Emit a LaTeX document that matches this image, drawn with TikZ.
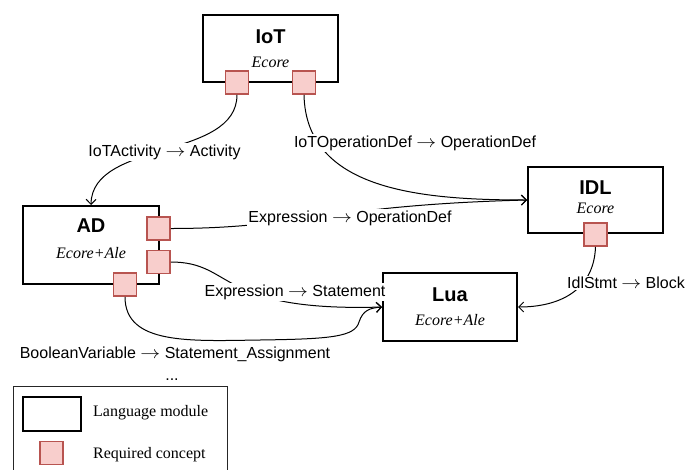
\documentclass[tikz,border=0pt]{standalone}
\usepackage{graphicx}
\usepackage{fontspec}
\setmainfont{Liberation Serif}
\setsansfont{Liberation Sans}
\usetikzlibrary{arrows.meta}
\definecolor{portfill}{HTML}{F8CECC}
\definecolor{portdraw}{HTML}{B85450}
\newcommand{\mapsarr}{\scalebox{1.15}[1]{$\rightarrow$}}
\begin{document}
\begin{tikzpicture}[x=1pt,y=-1pt,
  modbox/.style={draw=black, line width=2pt, fill=white, inner sep=0pt},
  port/.style={draw=portdraw, fill=portfill, line width=1.6pt, minimum size=23pt, inner sep=0pt},
  titletext/.style={font=\sffamily\bfseries\fontsize{20}{22}\selectfont, inner sep=0pt},
  subtext/.style={font=\itshape\fontsize{16}{18}\selectfont, inner sep=0pt},
  lab/.style={font=\sffamily\fontsize{16}{18}\selectfont, fill=white, inner sep=1.5pt},
  plainlab/.style={font=\sffamily\fontsize{16}{18}\selectfont, inner sep=1pt},
  legtext/.style={font=\fontsize{16}{18}\selectfont, inner sep=0pt},
  conn/.style={draw=black, line width=1pt, -{Straight Barb[length=5pt,width=10pt]}},
  legframe/.style={draw=black!85, line width=0.9pt}
]
\useasboundingbox (0,0) rectangle (688,469);

% modules
\node[modbox, minimum width=135pt, minimum height=67pt] (IoT) at (270.5,48.5) {};
\node[titletext] (IoTt) at (270.5,37) {IoT};
\node[subtext] (IoTs) at (270.5,62) {Ecore};

\node[modbox, minimum width=136pt, minimum height=78pt] (AD) at (91,245) {};
\node[titletext] (ADt) at (91,226) {AD};
\node[subtext] (ADs) at (91,253) {Ecore+Ale};

\node[modbox, minimum width=135pt, minimum height=66pt] (IDL) at (595.5,200) {};
\node[titletext] (IDLt) at (595.5,188) {IDL};
\node[subtext] (IDLs) at (595.5,208) {Ecore};

\node[modbox, minimum width=134pt, minimum height=68pt] (Lua) at (450,307) {};
\node[titletext] (Luat) at (450,295) {Lua};
\node[subtext] (Luas) at (450,320) {Ecore+Ale};

% ports
\node[port] (pIoT1) at (237,82.5) {};
\node[port] (pIoT2) at (304,82.5) {};
\node[port] (pAD1) at (158.5,228.5) {};
\node[port] (pAD2) at (158.5,262) {};
\node[port] (pAD3) at (125,284.5) {};
\node[port] (pIDL) at (595.5,234.5) {};

% connectors
\coordinate (c5a) at (260,340);
\coordinate (c5b) at (359,322);
\draw[conn] (pIoT1.south) .. controls (237,160) and (92,140) .. (AD.north);
\draw[conn] (pIoT2.south) .. controls (306,190) and (420,200) .. (IDL.west);
\draw[conn] (pAD1.east) .. controls (300,228.5) and (330,205) .. (IDL.west);
\draw[conn] (pAD2.east) .. controls (235,262) and (215,312) .. (Lua.west);
\draw[conn] (pAD3.south) .. controls (125,345) and (190,341) .. (c5a) .. controls (330,339) and (355,337) .. (c5b) .. controls (363,310) and (370,308) .. (Lua.west);
\draw[conn] (pIDL.south) .. controls (594,290) and (560,307) .. (Lua.east);

% labels
\node[lab] (L1) at (164.5,152) {IoTActivity \mapsarr{} Activity};
\node[lab] (L2) at (415,143) {IoTOperationDef \mapsarr{} OperationDef};
\node[lab] (L3) at (350,218) {Expression \mapsarr{} OperationDef};
\node[lab] (L4) at (295,292) {Expression \mapsarr{} Statement};
\node[lab] (L5) at (626,283) {IdlStmt \mapsarr{} Block};
\node[plainlab] (L6) at (175,354) {BooleanVariable \mapsarr{} Statement\_Assignment};
\node[plainlab] (L7) at (172,380) {...};

% legend
\node[legframe, minimum width=214pt, minimum height=92pt, anchor=north west, inner sep=0pt] (legend) at (13,386) {};
\node[modbox, minimum width=58pt, minimum height=34pt] (lgm) at (52,414) {};
\node[port] (lgp) at (51.5,453) {};
\node[legtext, anchor=west] (lgmt) at (93,413) {Language module};
\node[legtext, anchor=west] (lgpt) at (93,455) {Required concept};
\end{tikzpicture}
\end{document}
